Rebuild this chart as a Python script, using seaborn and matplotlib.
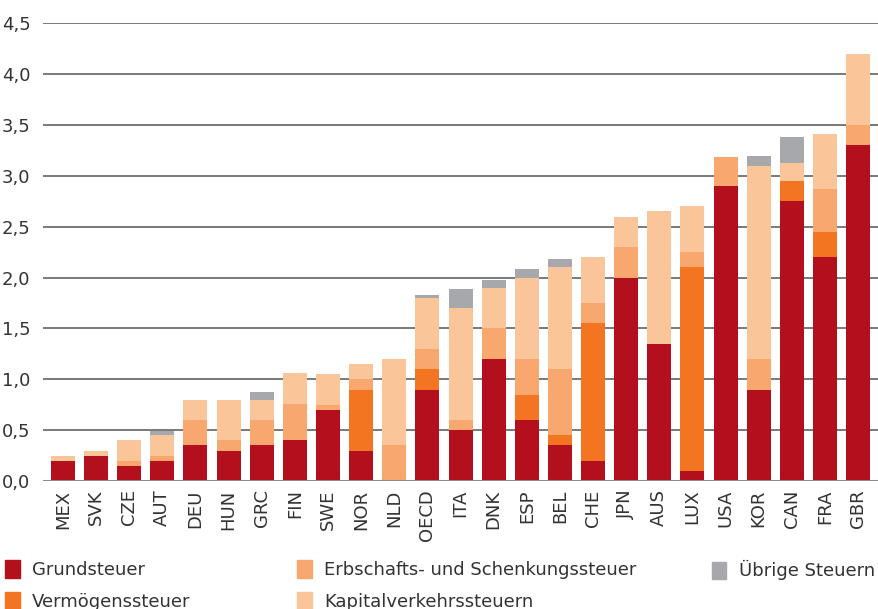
import matplotlib
matplotlib.use("Agg")
import matplotlib.pyplot as plt
import matplotlib.patches as mpatches
import numpy as np
import seaborn as sns

# ── Data ───────────────────────────────────────────
countries = ["MEX", "SVK", "CZE", "AUT", "DEU", "HUN", "GRC", "FIN", "SWE", "NOR",
             "NLD", "OECD", "ITA", "DNK", "ESP", "BEL", "CHE", "JPN", "AUS", "LUX",
             "USA", "KOR", "CAN", "FRA", "GBR"]
grundsteuer = [0.20, 0.25, 0.15, 0.20, 0.35, 0.30, 0.35, 0.40, 0.70, 0.30,
               0.00, 0.90, 0.50, 1.20, 0.60, 0.35, 0.20, 2.00, 1.35, 0.10,
               2.90, 0.90, 2.75, 2.20, 3.30]
vermoegen = [0.00, 0.00, 0.00, 0.00, 0.00, 0.00, 0.00, 0.00, 0.00, 0.60,
             0.00, 0.20, 0.00, 0.00, 0.25, 0.10, 1.35, 0.00, 0.00, 2.00,
             0.00, 0.00, 0.20, 0.25, 0.00]
erbschaft = [0.00, 0.00, 0.05, 0.05, 0.25, 0.10, 0.25, 0.36, 0.05, 0.10,
             0.35, 0.20, 0.10, 0.30, 0.35, 0.65, 0.20, 0.30, 0.00, 0.15,
             0.28, 0.30, 0.00, 0.42, 0.20]
kapital = [0.05, 0.05, 0.20, 0.20, 0.20, 0.40, 0.20, 0.30, 0.30, 0.15,
           0.85, 0.50, 1.10, 0.40, 0.80, 1.00, 0.45, 0.30, 1.30, 0.45,
           0.00, 1.90, 0.18, 0.54, 0.70]
uebrige = [0.00, 0.00, 0.00, 0.04, 0.00, 0.00, 0.08, 0.00, 0.00, 0.00,
           0.00, 0.03, 0.19, 0.08, 0.08, 0.08, 0.00, 0.00, 0.00, 0.00,
           0.00, 0.09, 0.25, 0.00, 0.00]

series_names = ["Grundsteuer", "Vermögenssteuer", "Erbschafts- und Schenkungssteuer",
                "Kapitalverkehrssteuern", "Übrige Steuern"]
colors = ["#B30F1C", "#F37521", "#F8A86E", "#FBC59A", "#A7A8AC"]

y_ticks = [0.0, 0.5, 1.0, 1.5, 2.0, 2.5, 3.0, 3.5, 4.0, 4.5]
y_ticklabels = ["0,0", "0,5", "1,0", "1,5", "2,0", "2,5", "3,0", "3,5", "4,0", "4,5"]

# ── Plot ───────────────────────────────────────────
sns.set_theme(style="white")
plt.rcParams["font.family"] = ["DejaVu Sans"]

fig = plt.figure(figsize=(8.79, 6.09), dpi=100)
ax = fig.add_axes([0.049, 0.210, 0.951, 0.752])

layers = np.array([grundsteuer, vermoegen, erbschaft, kapital, uebrige])
cum = np.cumsum(layers, axis=0)

# draw cumulative totals from top layer down so each segment shows
for i in range(len(series_names) - 1, -1, -1):
    sns.barplot(x=countries, y=cum[i], color=colors[i], width=0.725,
                saturation=1, linewidth=0, ax=ax, zorder=2)

ax.set_ylim(0, 4.5)
ax.set_xlim(-0.6, len(countries) - 1 + 0.63)
ax.set_yticks(y_ticks)
ax.set_yticklabels(y_ticklabels)
ax.yaxis.grid(True, color="#555555", linewidth=1.1)
ax.set_axisbelow(True)
ax.axhline(0, color="#8c8c8c", linewidth=2.2, zorder=3)
sns.despine(ax=ax, left=True, bottom=True, top=True, right=True)

ax.tick_params(axis="x", rotation=90, labelsize=13, colors="#333333", length=0, pad=6)
ax.tick_params(axis="y", labelsize=13, colors="#333333", length=0, pad=9)
ax.set_xlabel("")
ax.set_ylabel("")

# ── Legend in three columns ────────────────────────
handles = [mpatches.Patch(color=c, label=n) for c, n in zip(colors, series_names)]
groups = [(handles[0:2], 0.006), (handles[2:4], 0.338), (handles[4:5], 0.810)]
for hs, xpos in groups:
    fig.legend(handles=hs, loc="upper left", bbox_to_anchor=(xpos, 0.080),
               frameon=False, fontsize=13, handlelength=0.8, handleheight=1.1,
               handletextpad=0.7, labelspacing=0.7, borderpad=0, borderaxespad=0,
               labelcolor="#333333")

fig.savefig("out.png", dpi=100)
